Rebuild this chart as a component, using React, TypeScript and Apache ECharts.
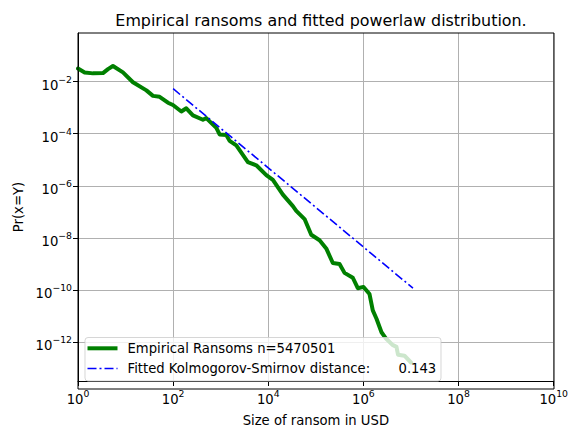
import React, { useEffect, useRef } from "react";
import * as echarts from "echarts";

// Empirical distribution (x: ransom size in USD, y: Pr(x=Y))
const ransomUSD = [
  1, 1.38, 2.07, 3.35, 4.27, 5.43, 8.81, 14.3, 27.4, 37.7, 52.0, 77.8, 99.1,
  148.6, 189.2, 260.6, 422.7, 497.7, 809, 948, 1312, 1538, 2128, 3724, 5598,
  9078, 12500, 20280, 32890, 38730, 57940, 79980, 119700, 165200, 227500,
  314800, 400900, 598400, 762100, 1004600, 1343000, 1574000, 1884000, 2399000,
  2911000, 4083000, 4955000, 5333000, 7295000, 1e7,
];
const empiricalPr = [
  3.18e-2, 2.25e-2, 2.07e-2, 2.12e-2, 3.0e-2, 3.98e-2, 2.25e-2, 9.48e-3,
  4.59e-3, 2.83e-3, 2.6e-3, 1.55e-3, 1.26e-3, 7.11e-4, 9.46e-4, 5.04e-4,
  3.44e-4, 3.98e-4, 1.68e-4, 9.42e-5, 8.93e-5, 5.32e-5, 3.55e-5, 8.17e-6,
  6.14e-6, 2.59e-6, 1.68e-6, 4.59e-7, 1.67e-7, 1.09e-7, 5.3e-8, 1.33e-8,
  8.13e-9, 3.97e-9, 1.09e-9, 9.95e-10, 4.57e-10, 2.97e-10, 1.18e-10, 1.32e-10,
  7.02e-11, 1.66e-11, 7.94e-12, 2.4e-12, 1.45e-12, 7.85e-13, 6.61e-13,
  3.31e-13, 3.02e-13, 1.66e-13,
];
// Fitted power law
const fitUSD = [1e2, 1.1e7];
const fitPr = [5.32e-3, 1.18e-10];

const xTickExps = [0, 2, 4, 6, 8, 10];
const yTickExps = [-12, -10, -8, -6, -4, -2];

const title = "Empirical ransoms and fitted powerlaw distribution.";
const xName = "Size of ransom in USD";
const yName = "Pr(x=Y)";
const legendEmpirical = "Empirical Ransoms n=5470501";
const legendFitted = "Fitted Kolmogorov-Smirnov distance:";
const ksDistance = "0.143";

const FONT = "DejaVu Sans";
const FS = 13.2;

const supLabel = (v: number) => {
  const s = v < 0 ? "\u2212" + Math.abs(v) : String(v);
  return `{b|10}{s|${s}}`;
};
const rich = {
  b: { fontSize: FS, fontFamily: FONT, color: "#000", lineHeight: 20, verticalAlign: "bottom" },
  s: { fontSize: 9.3, fontFamily: FONT, color: "#000", lineHeight: 20, verticalAlign: "top", padding: [3, 0, 0, 0] },
};

export default function App() {
  const ref = useRef<HTMLDivElement>(null);
  useEffect(() => {
    if (!ref.current) return;
    const chart = echarts.init(ref.current, null, { renderer: "svg" });
    const L = 78, T = 33, R = 554, B = 389;
    chart.setOption({
      animation: false,
      backgroundColor: "#fff",
      title: {
        text: title,
        left: 316,
        top: 7,
        textAlign: "center",
        textStyle: { fontFamily: FONT, fontSize: 15.9, fontWeight: "normal", color: "#000" },
      },
      grid: { left: L, top: T, right: 571 - R, bottom: 432 - B, containLabel: false },
      xAxis: {
        type: "value",
        min: 0,
        max: 10,
        interval: 2,
        name: xName,
        nameLocation: "middle",
        nameGap: 33,
        nameTextStyle: { fontFamily: FONT, fontSize: FS, color: "#000" },
        axisLine: { show: true, lineStyle: { color: "#000", width: 1 } },
        axisTick: { show: true, length: 5, lineStyle: { color: "#000", width: 1 }, customValues: xTickExps },
        axisLabel: { customValues: xTickExps, formatter: supLabel, rich, margin: 5 },
        splitLine: { show: true, lineStyle: { color: "#b0b0b0", width: 1 } },
      },
      yAxis: {
        type: "value",
        min: -13.49,
        max: -0.135,
        name: yName,
        nameLocation: "middle",
        nameGap: 53,
        nameTextStyle: { fontFamily: FONT, fontSize: FS, color: "#000" },
        axisLine: { show: true, lineStyle: { color: "#000", width: 1 } },
        axisTick: { show: true, length: 5, lineStyle: { color: "#000", width: 1 }, customValues: yTickExps },
        axisLabel: { customValues: yTickExps, formatter: supLabel, rich, margin: 6 },
        splitLine: { show: true, lineStyle: { color: "#b0b0b0", width: 1 } },
      },
      series: [
        {
          name: legendEmpirical,
          type: "line",
          data: ransomUSD.map((x, i) => [Math.log10(x), Math.log10(empiricalPr[i])]),
          showSymbol: false,
          symbol: "none",
          lineStyle: { color: "#008000", width: 4, join: "round", cap: "round" },
          z: 3,
        },
        {
          name: legendFitted + " " + ksDistance,
          type: "line",
          data: fitUSD.map((x, i) => [Math.log10(x), Math.log10(fitPr[i])]),
          showSymbol: false,
          symbol: "none",
          lineStyle: { color: "#0000ff", width: 1.6, type: [9, 3, 2, 3] },
          z: 4,
        },
      ],
      graphic: [
        {
          type: "rect",
          z: 100,
          shape: { x: L, y: T, width: R - L, height: B - T },
          style: { fill: "none", stroke: "#000", lineWidth: 1 },
          silent: true,
        },
        {
          type: "rect",
          z: 100,
          shape: { x: 85, y: 337.5, width: 356, height: 43.5, r: 3 },
          style: { fill: "rgba(255,255,255,0.8)", stroke: "rgba(204,204,204,0.8)", lineWidth: 1 },
          silent: true,
        },
        {
          type: "line",
          z: 101,
          shape: { x1: 87.5, y1: 348.3, x2: 117.5, y2: 348.3 },
          style: { stroke: "#008000", lineWidth: 4 },
        },
        {
          type: "line",
          z: 101,
          shape: { x1: 87.5, y1: 368.5, x2: 117.5, y2: 368.5 },
          style: { stroke: "#0000ff", lineWidth: 1.6, lineDash: [9, 3, 2, 3] },
        },
        {
          type: "text",
          z: 101,
          x: 127.5,
          y: 348.5,
          style: { text: legendEmpirical, fontFamily: FONT, fontSize: FS, fill: "#000", verticalAlign: "middle" },
        },
        {
          type: "text",
          z: 101,
          x: 127.5,
          y: 368.8,
          style: { text: legendFitted, fontFamily: FONT, fontSize: FS, fill: "#000", verticalAlign: "middle" },
        },
        {
          type: "text",
          z: 101,
          x: 398.5,
          y: 368.8,
          style: { text: ksDistance, fontFamily: FONT, fontSize: FS, fill: "#000", verticalAlign: "middle" },
        },
      ],
    });
    return () => chart.dispose();
  }, []);
  return <div ref={ref} style={{ width: 571, height: 432, position: "absolute", left: 0, top: 0 }} />;
}
